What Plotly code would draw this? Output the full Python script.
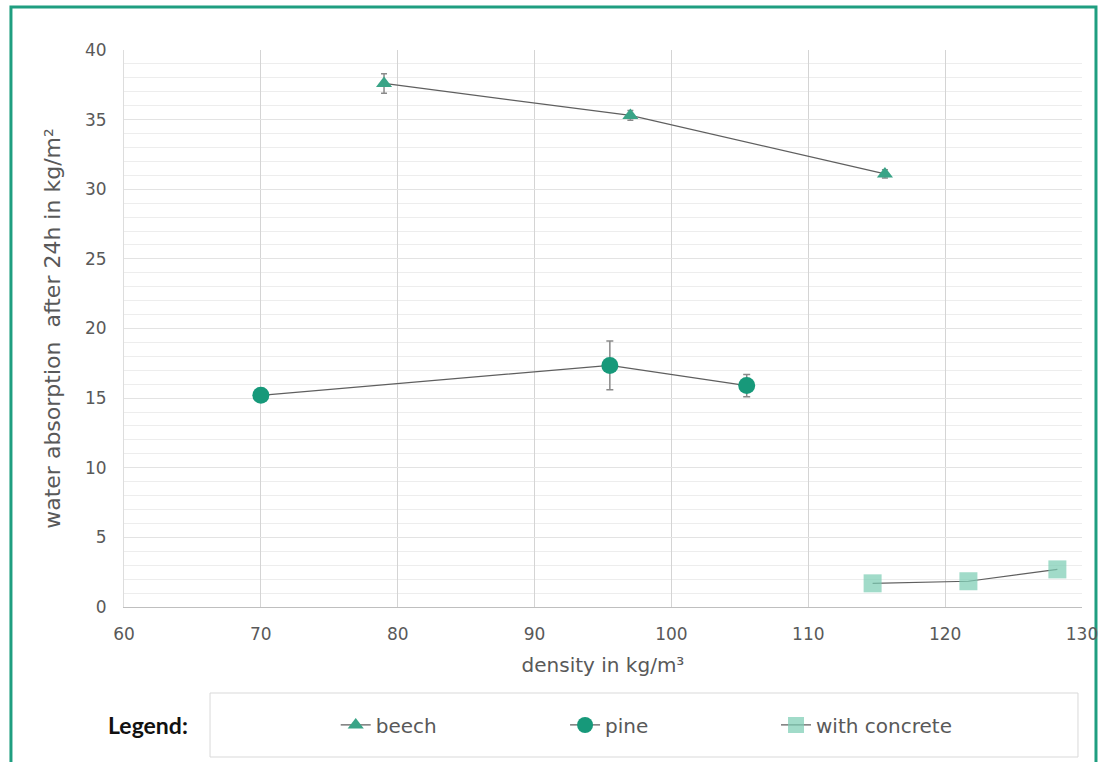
import plotly.graph_objects as go

beech_density = [79.0, 97.0, 115.6]
beech_water = [37.6, 35.3, 31.1]
beech_err = [0.7, 0.35, 0.3]

pine_density = [70.0, 95.5, 105.5]
pine_water = [15.2, 17.35, 15.9]
pine_err = [0.2, 1.75, 0.8]

concrete_density = [114.7, 121.7, 128.2]
concrete_water = [1.7, 1.85, 2.7]
concrete_err = [0.0, 0.0, 0.0]

x_ticks = [60, 70, 80, 90, 100, 110, 120, 130]
y_ticks = [0, 5, 10, 15, 20, 25, 30, 35, 40]

LINE = "#5f5f5f"
ERR = "#8a8a8a"
TXT = "#595959"
FONT = "DejaVu Sans, Liberation Sans, sans-serif"

fig = go.Figure()

fig.add_trace(go.Scatter(
    x=beech_density, y=beech_water, name="beech", mode="lines+markers", legend="legend",
    line=dict(color=LINE, width=1.2),
    marker=dict(symbol="triangle-up", size=14, color="#3aa487"),
    error_y=dict(type="data", array=beech_err, color=ERR, thickness=1.5, width=3),
))
fig.add_trace(go.Scatter(
    x=pine_density, y=pine_water, name="pine", mode="lines+markers", legend="legend2",
    line=dict(color=LINE, width=1.2),
    marker=dict(symbol="circle", size=17, color="#17997a"),
    error_y=dict(type="data", array=pine_err, color=ERR, thickness=1.5, width=3.5),
))
fig.add_trace(go.Scatter(
    x=concrete_density, y=concrete_water, name="with concrete", mode="lines+markers", legend="legend3",
    line=dict(color=LINE, width=1.2),
    marker=dict(symbol="square", size=18, color="rgba(125,205,180,0.72)"),
    error_y=dict(type="data", array=concrete_err, visible=False),
))

# outer frame and legend box
fig.add_shape(type="rect", xref="paper", yref="paper", x0=-0.118, x1=1.0146, y0=-0.30, y1=1.0772,
              line=dict(color="#1f9e80", width=3), layer="below")
fig.add_shape(type="rect", xref="paper", yref="paper", x0=0.0898, x1=0.9958, y0=-0.2693, y1=-0.1544,
              line=dict(color="#d9d9d9", width=1), layer="below")
fig.add_annotation(text="<b>Legend:</b>", xref="paper", yref="paper", x=0.025, y=-0.2118,
                   xanchor="center", yanchor="middle",
                   showarrow=False, font=dict(family="Lato, sans-serif", size=23, color="#111111"))

legend_common = dict(orientation="h", y=-0.2118, xanchor="left", yanchor="middle",
                     font=dict(family=FONT, size=20, color=TXT), bgcolor="rgba(0,0,0,0)")

fig.update_layout(
    width=1102, height=762,
    margin=dict(l=124, r=20, t=50, b=155),
    paper_bgcolor="white", plot_bgcolor="white",
    font=dict(family=FONT, color=TXT, size=17),
    showlegend=True,
    legend=dict(x=0.2210, **legend_common),
    legend2=dict(x=0.4604, **legend_common),
    legend3=dict(x=0.6806, **legend_common),
    xaxis=dict(range=[60, 130], tickvals=x_ticks, showgrid=True, gridcolor="#d4d4d4", gridwidth=1,
               zeroline=False, showline=True, linecolor="#bfbfbf", linewidth=1, automargin=False,
               ticks="", tickfont=dict(family=FONT, size=17, color=TXT), ticklabelstandoff=12,
               title=dict(text="density in kg/m³", font=dict(family=FONT, size=20, color=TXT), standoff=14)),
    yaxis=dict(range=[0, 40], tickvals=y_ticks, showgrid=True, gridcolor="#e3e3e3", gridwidth=1,
               minor=dict(dtick=1, showgrid=True, gridcolor="#ededed", gridwidth=1),
               zeroline=False, showline=True, linecolor="#dddddd", linewidth=1, automargin=False,
               ticks="", tickfont=dict(family=FONT, size=17, color=TXT), ticklabelstandoff=13,
               title=dict(text="water absorption  after 24h in kg/m²", font=dict(family=FONT, size=22, color=TXT), standoff=18)),
)

fig.write_html("out.html", config={"displayModeBar": False},
               post_script="document.body.style.margin='0';document.body.style.overflow='hidden';")
